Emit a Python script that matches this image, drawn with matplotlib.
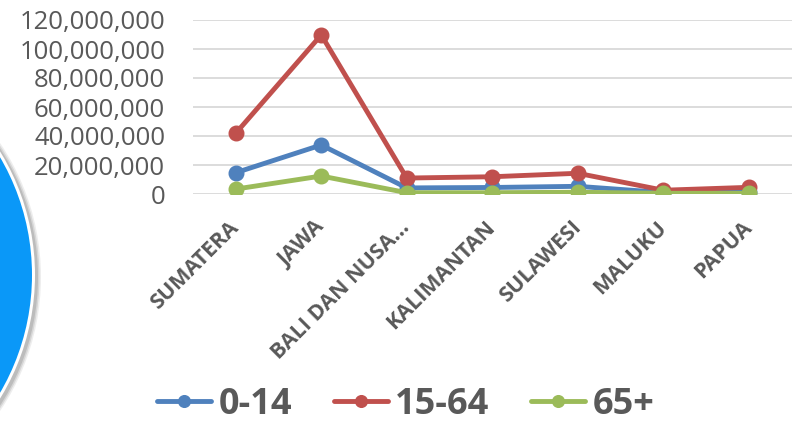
import matplotlib.pyplot as plt
import matplotlib.patches as mpatches
from matplotlib.ticker import FuncFormatter
import numpy as np

# --- data ---
regions = ['SUMATERA', 'JAWA', 'BALI DAN NUSA...', 'KALIMANTAN',
           'SULAWESI', 'MALUKU', 'PAPUA']
age_0_14 = [14.7e6, 33.8e6, 4.2e6, 4.5e6, 5.3e6, 1.0e6, 1.2e6]
age_15_64 = [41.9e6, 109.7e6, 11.0e6, 11.9e6, 14.3e6, 2.6e6, 4.6e6]
age_65 = [3.4e6, 12.4e6, 0.9e6, 0.9e6, 1.2e6, 0.5e6, 0.5e6]
y_ticks = [0, 20e6, 40e6, 60e6, 80e6, 100e6, 120e6]

text_col = '#595959'
colors = {'0-14': '#4F81BD', '15-64': '#C0504D', '65+': '#9BBB59'}

W, H = 794, 425
fig = plt.figure(figsize=(W / 100, H / 100), dpi=100)

# decorative blue circle on the left edge
bg = fig.add_axes([0, 0, 1, 1], zorder=0)
bg.set_xlim(0, W)
bg.set_ylim(H, 0)
bg.axis('off')
cx, cy, r = -201, 275, 233
for k, a in [(7, 0.12), (5.5, 0.18), (4, 0.25)]:
    bg.add_patch(mpatches.Circle((cx + 2, cy + 2), r + k, color='#707070', alpha=a, lw=0))
bg.add_patch(mpatches.Circle((cx, cy), r + 3, color='white', lw=0))
bg.add_patch(mpatches.Circle((cx, cy), r, color='#0A98F8', lw=0))

ax = fig.add_axes([193 / W, 1 - 194 / H, 598.5 / W, 174 / H], zorder=1)
ax.patch.set_alpha(0)

x = np.arange(len(regions))
series = [('0-14', age_0_14), ('15-64', age_15_64), ('65+', age_65)]
for name, vals in series:
    ax.plot(x, vals, color=colors[name], linewidth=3.5, marker='o',
            markersize=10.5, solid_capstyle='round', label=name)

ax.set_xlim(-0.5, len(regions) - 0.5)
ax.set_ylim(0, 120e6)
ax.set_yticks(y_ticks)
ax.yaxis.set_major_formatter(FuncFormatter(lambda v, p: f'{v:,.0f}'))
ax.grid(axis='y', color='#D9D9D9', linewidth=1.3)
ax.set_axisbelow(True)
for s in ax.spines.values():
    s.set_visible(False)
ax.tick_params(axis='y', length=0, pad=20, labelsize=18.5, labelcolor=text_col)
for lab in ax.get_yticklabels():
    lab.set_fontfamily('Open Sans')

ax.set_xticks(x)
ax.set_xticklabels(regions, rotation=45, ha='right', va='center',
                   rotation_mode='anchor', fontsize=15.5, fontweight='bold',
                   color=text_col, fontfamily='Open Sans')
ax.tick_params(axis='x', length=0, pad=22)

leg = fig.legend(loc='center', bbox_to_anchor=(0.511, 0.047), ncol=3,
                 frameon=False, handlelength=1.5, handletextpad=0.2,
                 columnspacing=1.15, markerscale=0.8,
                 prop={'family': 'Open Sans', 'weight': 'bold', 'size': 26})
for t in leg.get_texts():
    t.set_color(text_col)

fig.savefig('out.png', dpi=100)
